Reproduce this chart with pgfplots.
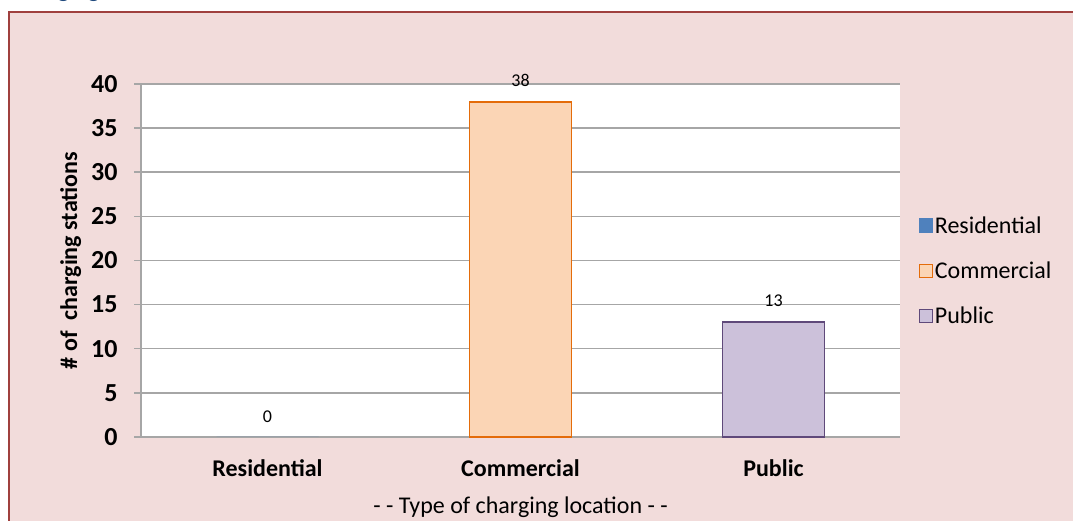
\documentclass[border=0pt]{standalone}
\usepackage{pgfplots}
\pgfplotsset{compat=1.18}
\usepackage{fontspec}
\setmainfont{Carlito}

\definecolor{bgpink}{HTML}{F2DCDB}
\definecolor{framered}{HTML}{A0403E}
\definecolor{gridgray}{HTML}{A6A6A6}
\definecolor{resblue}{HTML}{4F81BD}
\definecolor{comfill}{HTML}{FBD5B5}
\definecolor{comline}{HTML}{E46C0A}
\definecolor{pubfill}{HTML}{CCC1DA}
\definecolor{publine}{HTML}{5F497A}
\definecolor{titleblue}{HTML}{1F497D}

\begin{document}
\begin{tikzpicture}[x=1pt,y=1pt]
\useasboundingbox (0,0) rectangle (1073,521);
% panel behind the chart
\fill[bgpink] (9,0) rectangle (1080,509);
\draw[framered,line width=1.5pt] (9,-5) -- (9,509) -- (1080,509);
% title above, mostly cut off by the page edge
\node[anchor=base west,font=\fontsize{24}{28}\selectfont\bfseries,text=titleblue,inner sep=0pt]
  at (12,523) {Charging};

\begin{axis}[
  at={(141pt,84pt)}, anchor=south west,
  scale only axis, width=759pt, height=353pt,
  axis background/.style={fill=white},
  xmin=-0.5, xmax=2.5, ymin=0, ymax=40,
  xtick={0,1,2},
  xticklabels={Residential,Commercial,Public},
  ytick={0,5,...,40},
  axis x line=bottom, axis y line=left,
  axis line style={gridgray,line width=1.5pt,-},
  ymajorgrids,
  grid style={gridgray,line width=1.5pt},
  major x tick style={draw=none},
  major y tick style={gridgray,line width=1.5pt},
  major tick length=7pt,
  tick align=outside,
  xticklabel style={font=\fontsize{24}{28}\selectfont\bfseries,yshift=-12pt},
  yticklabel style={font=\fontsize{26}{30}\selectfont\bfseries,xshift=-13pt},
  /pgf/number format/assume math mode=true,
  xlabel={- - Type of charging location - -},
  xlabel style={font=\fontsize{24}{28}\selectfont,yshift=-13pt},
  ylabel={\# of\ \ charging stations},
  ylabel style={font=\fontsize{24}{28}\selectfont\bfseries,yshift=3pt},
  ybar, bar width=102pt, bar shift=0pt,
  nodes near coords,
  nodes near coords style={font=\fontsize{18}{21}\selectfont,anchor=south,yshift=11pt},
  legend style={at={(1.0203,0.471)},anchor=west,draw=none,fill=none,
    font=\fontsize{24}{28}\selectfont,row sep=23pt,
    /tikz/every even column/.append style={column sep=6pt}},
  legend cell align=left,
  legend image code/.code={\draw[#1,line width=1.3pt] (0pt,-6.5pt) rectangle (13pt,6.5pt);},
  clip=false,
]
\addlegendimage{fill=resblue,draw=resblue}
\addplot[fill=resblue,draw=none,forget plot] coordinates {(0,0)};
\addplot[fill=comfill,draw=comline,line width=1.8pt] coordinates {(1,38)};
\addplot[fill=pubfill,draw=publine,line width=1.8pt] coordinates {(2,13)};
\legend{Residential,Commercial,Public}
\end{axis}
\end{tikzpicture}
\end{document}
